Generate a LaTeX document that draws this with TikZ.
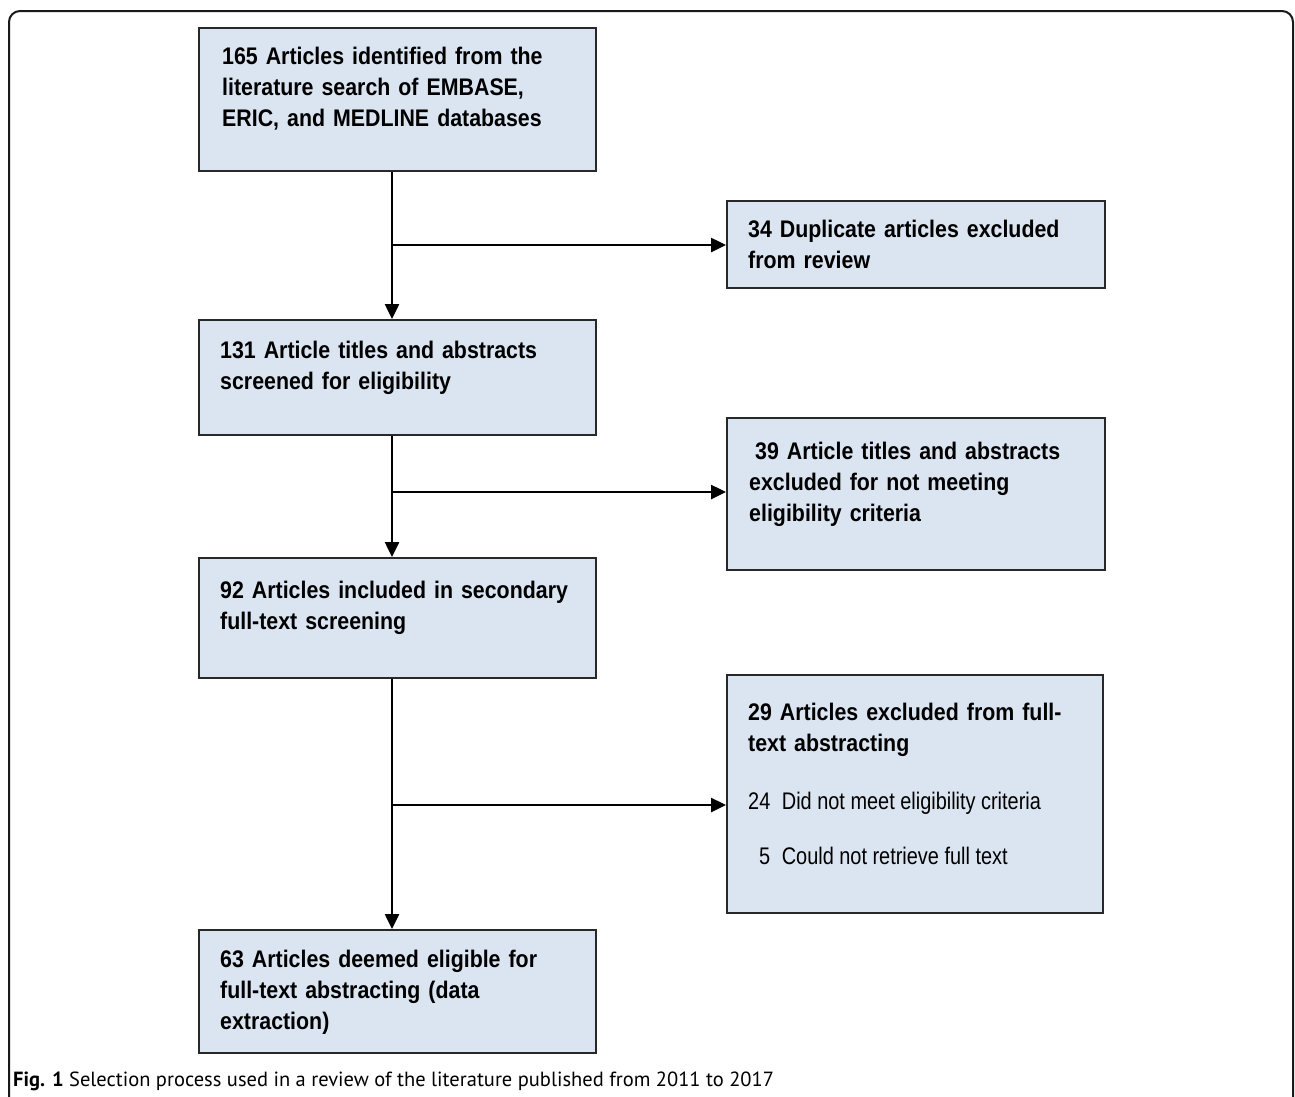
\documentclass[tikz,border=0pt]{standalone}
\usepackage{fontspec}
\usetikzlibrary{arrows.meta}
\newfontfamily\boxfont[FakeStretch=0.89]{Liberation Sans}
\newfontfamily\subfont[FakeStretch=0.83]{Liberation Sans}
\newfontfamily\capfont{PT Sans}
\definecolor{boxfill}{RGB}{219,229,241}
\definecolor{boxline}{RGB}{40,40,40}
\tikzset{
  flowbox/.style={draw=boxline, fill=boxfill, line width=2pt, inner sep=0pt, minimum width=#1},
  boxtxt/.style={anchor=base west, inner sep=0pt, text width=380pt, align=left,
    font=\boxfont\bfseries\fontsize{24}{31}\selectfont},
  subtxt/.style={anchor=base west, inner sep=0pt,
    font=\subfont\fontsize{24}{31}\selectfont},
  flowarr/.style={line width=2.5pt, -{Triangle[length=15pt,width=14pt]}},
  flowline/.style={line width=2.5pt}
}
\begin{document}
\begin{tikzpicture}[x=1pt,y=-1pt]
\useasboundingbox (0,0) rectangle (1295,1096);
\clip (0,0) rectangle (1295,1096);
\draw[line width=2pt, rounded corners=11pt, draw=black!90] (9,11) rectangle (1293,1130);
% boxes
\node[flowbox=397pt, minimum height=143pt] (b1) at (397.5,99.5) {};
\node[flowbox=378pt, minimum height=87pt]  (b2) at (916,244.5) {};
\node[flowbox=397pt, minimum height=115pt] (b3) at (397.5,377.5) {};
\node[flowbox=378pt, minimum height=152pt] (b4) at (916,494) {};
\node[flowbox=397pt, minimum height=120pt] (b5) at (397.5,618) {};
\node[flowbox=376pt, minimum height=238pt] (b6) at (915,794) {};
\node[flowbox=397pt, minimum height=123pt] (b7) at (397.5,991.5) {};
% texts
\node[boxtxt] (t1) at (222,64) {165 Articles identified from the\\literature search of EMBASE,\\ERIC, and MEDLINE databases};
\node[boxtxt] (t2) at (748,237) {34 Duplicate articles excluded\\from review};
\node[boxtxt] (t3) at (220,358) {131 Article titles and abstracts\\screened for eligibility};
\node[boxtxt] (t4) at (749,459) {\hspace*{6pt}39 Article titles and abstracts\\excluded for not meeting\\eligibility criteria};
\node[boxtxt] (t5) at (220,598) {92 Articles included in secondary\\full-text screening};
\node[boxtxt] (t6) at (748,720) {29 Articles excluded from full-\\text abstracting};
\node[subtxt] (t6a) at (748,809) {24\hspace{6pt} Did not meet eligibility criteria};
\node[subtxt] (t6b) at (759,864) {5\hspace{6pt} Could not retrieve full text};
\node[boxtxt] (t7) at (220,967) {63 Articles deemed eligible for\\full-text abstracting (data\\extraction)};
% connectors
\coordinate (j1) at (392,245);
\coordinate (j2) at (392,492);
\coordinate (j3) at (392,805);
\draw[flowarr] (b1.south -| j1) -- (b3.north -| j1);
\draw[flowarr] (j1) -- (j1 -| b2.west);
\draw[flowarr] (b3.south -| j2) -- (b5.north -| j2);
\draw[flowarr] (j2) -- (j2 -| b4.west);
\draw[flowarr] (b5.south -| j3) -- (b7.north -| j3);
\draw[flowarr] (j3) -- (j3 -| b6.west);
% caption
\node[anchor=base west, inner sep=0pt, font=\capfont\fontsize{20.5}{24}\selectfont] (cap) at (13,1086) {\textbf{Fig. 1} Selection process used in a review of the literature published from 2011 to 2017};
\end{tikzpicture}
\end{document}
